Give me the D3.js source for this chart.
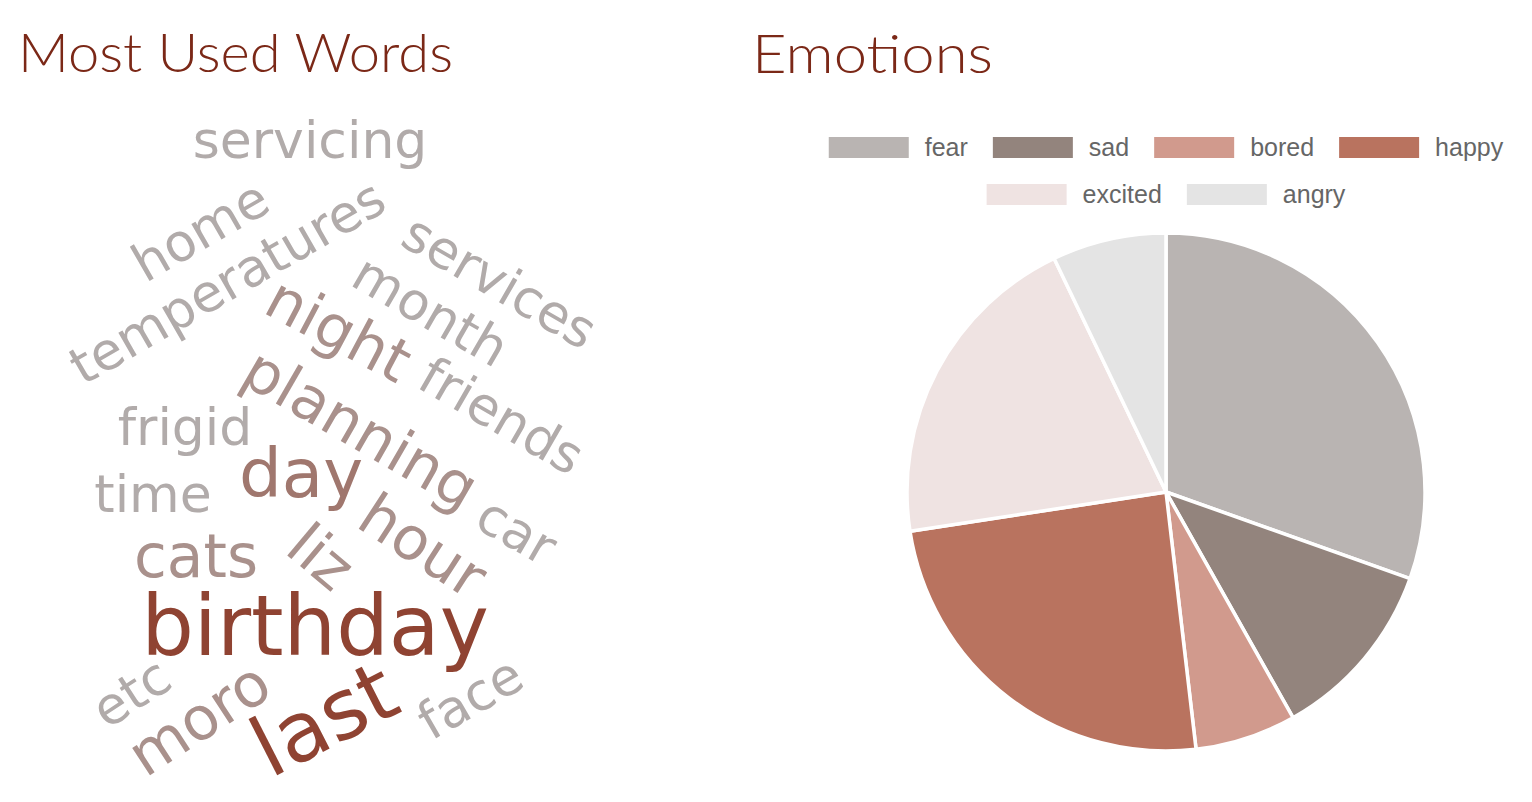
<!DOCTYPE html>
<html>
<head>
<meta charset="utf-8">
<script src="https://cdn.jsdelivr.net/npm/d3@7"></script>
<style>
  html, body { margin: 0; padding: 0; background: #fff; }
  svg { display: block; }
</style>
</head>
<body>
<svg id="chart" width="1532" height="802"></svg>
<script>
// -----------------------------
//  DATA
// -----------------------------
const words = [
    "servicing", "home", "temperatures", "services", "month",
    "night", "planning", "friends", "frigid", "time",
    "day", "car", "hour", "liz", "cats",
    "birthday", "etc", "moro", "last", "face"
];
const wordCounts = [
    2, 2, 2, 2, 2,
    3, 3, 2, 2, 2,
    4, 2, 3, 3, 3,
    6, 2, 3, 6, 2
];

const emotions = ["fear", "sad", "bored", "happy", "excited", "angry"];
const emotionShares = [30.4, 11.4, 6.3, 24.4, 20.3, 7.1];

// cloud layout result (offset from cloud centre, rotation)
const cloudLayout = [
    [0, -309, 0], [-109, -218, -30], [-82, -167, -30], [189, -167, 30], [120, -138, 30],
    [28, -119, 28], [50, -20, 30], [191, -33, 30], [-125, -22, 0], [-157, 45, 0],
    [-9, 25, 0], [206, 82, 30], [112, 97, 33], [10, 108, 40], [-114, 108, 0],
    [5, 178, 0], [-178, 244, -33], [-110, 270, -33], [15, 271, -27], [161, 249, -30]
];

// -----------------------------
//  SETUP
// -----------------------------
const svg = d3.select("#chart");
const titleColor = "#7b2817";
const titleFont = "Lato, 'Open Sans', sans-serif";

svg.append("text")
    .attr("x", 18).attr("y", 72)
    .attr("font-family", titleFont)
    .attr("font-weight", 300)
    .attr("font-size", 54)
    .attr("fill", titleColor)
    .attr("textLength", 435)
    .attr("lengthAdjust", "spacingAndGlyphs")
    .text("Most Used Words");

svg.append("text")
    .attr("x", 752).attr("y", 73)
    .attr("font-family", titleFont)
    .attr("font-weight", 300)
    .attr("font-size", 54)
    .attr("fill", titleColor)
    .attr("textLength", 241)
    .attr("lengthAdjust", "spacingAndGlyphs")
    .text("Emotions");

// -----------------------------
//  WORD CLOUD
// -----------------------------
const sizeScale = d3.scaleLinear().domain([2, 6]).range([52, 83]);
const colorScale = d3.scaleLinear().domain([2, 6]).range(["#b1abaa", "#8f4332"]);

const cloudData = words.map((w, i) => ({
    text: w,
    count: wordCounts[i],
    x: cloudLayout[i][0],
    y: cloudLayout[i][1],
    rotate: cloudLayout[i][2]
}));

const cloud = svg.append("g").attr("transform", "translate(310,450)");

cloud.selectAll("text")
    .data(cloudData)
    .enter()
    .append("text")
    .attr("text-anchor", "middle")
    .attr("dy", "0.32em")
    .attr("font-family", "'DejaVu Sans', Verdana, sans-serif")
    .attr("font-size", (d) => sizeScale(d.count))
    .attr("fill", (d) => colorScale(d.count))
    .attr("transform", (d) => `translate(${d.x},${d.y}) rotate(${d.rotate})`)
    .text((d) => d.text);

// -----------------------------
//  PIE
// -----------------------------
const pieColors = d3.scaleOrdinal()
    .domain(emotions)
    .range(["#b9b4b2", "#93847d", "#d19a8d", "#b9735f", "#efe3e2", "#e4e4e4"]);

const pieData = emotions.map((e, i) => ({ label: e, value: emotionShares[i] }));
const cx = 1166, cy = 492, radius = 259;

const arcs = d3.pie().sort(null).value((d) => d.value)(pieData);
const arc = d3.arc().innerRadius(0).outerRadius(radius);

svg.append("g")
    .attr("transform", `translate(${cx},${cy})`)
    .selectAll("path")
    .data(arcs)
    .enter()
    .append("path")
    .attr("d", arc)
    .attr("fill", (d) => pieColors(d.data.label))
    .attr("stroke", "#fff")
    .attr("stroke-width", 3.5)
    .attr("stroke-linejoin", "round");

// -----------------------------
//  LEGEND (wrapped, centred rows)
// -----------------------------
const boxW = 80, boxH = 21, labelGap = 16, itemGap = 25, maxRow = 720;
const legendFont = "'Liberation Sans', Arial, Helvetica, sans-serif";
const legendSize = 25;
const legend = svg.append("g");

const measure = legend.append("text")
    .attr("font-family", legendFont).attr("font-size", legendSize);
const items = emotions.map((e) => {
    measure.text(e);
    return { label: e, w: boxW + labelGap + measure.node().getComputedTextLength() };
});
measure.remove();

const rows = [[]];
let rowW = 0;
items.forEach((it) => {
    const add = (rows[rows.length - 1].length ? itemGap : 0) + it.w;
    if (rowW + add > maxRow) { rows.push([it]); rowW = it.w; }
    else { rows[rows.length - 1].push(it); rowW += add; }
});

rows.forEach((row, r) => {
    const total = d3.sum(row, (d) => d.w) + itemGap * (row.length - 1);
    let x = cx - total / 2;
    const y = 137 + r * 47;
    row.forEach((it) => {
        legend.append("rect")
            .attr("x", x).attr("y", y)
            .attr("width", boxW).attr("height", boxH)
            .attr("fill", pieColors(it.label));
        legend.append("text")
            .attr("x", x + boxW + labelGap)
            .attr("y", y + boxH / 2)
            .attr("dy", "0.35em")
            .attr("font-family", legendFont)
            .attr("font-size", legendSize)
            .attr("fill", "#666")
            .text(it.label);
        x += it.w + itemGap;
    });
});
</script>
</body>
</html>
